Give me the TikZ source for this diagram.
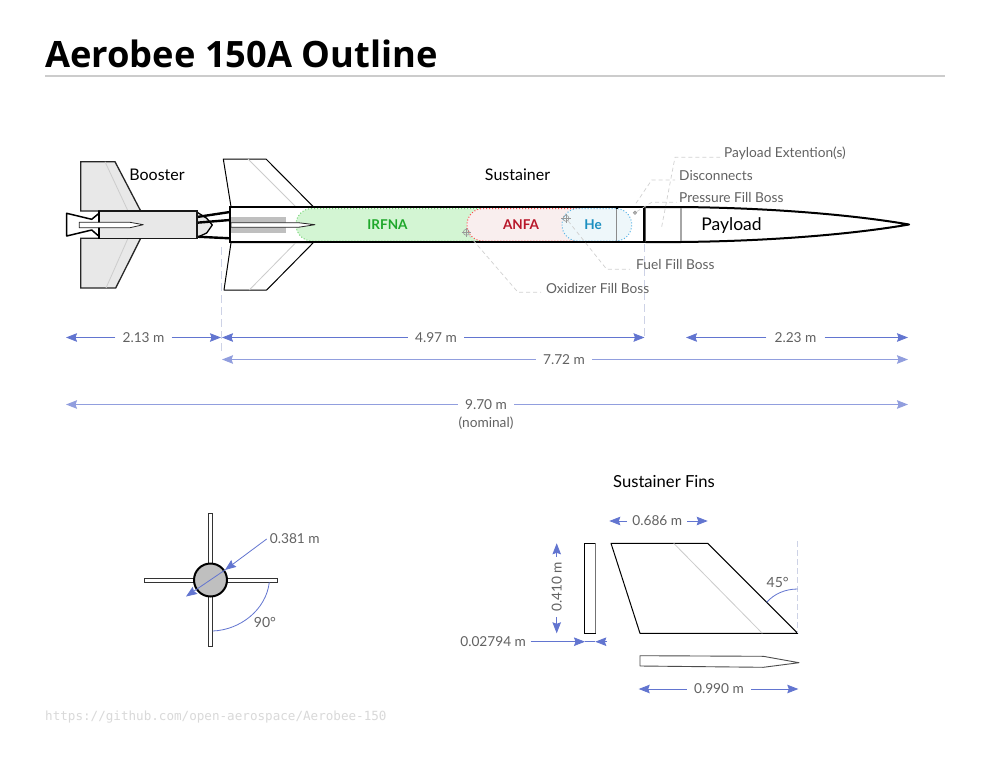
\documentclass[tikz,border=0pt]{standalone}
\usepackage{fontspec}
\setmainfont{Lato}
\newfontfamily\titlefont{Open Sans}
\newfontfamily\urlfont{DejaVu Sans Mono}
\usetikzlibrary{arrows.meta}
\definecolor{dimblue}{HTML}{6275D0}
\definecolor{lab}{HTML}{626262}
\definecolor{finfill}{HTML}{E8E8E8}
\definecolor{irfnafill}{HTML}{D3F5D3}
\definecolor{anfafill}{HTML}{F9EEEE}
\definecolor{hefill}{HTML}{EEF7FA}
\definecolor{guidecol}{HTML}{CDD2E6}
\definecolor{irfnatxt}{HTML}{1FA82B}
\definecolor{anfatxt}{HTML}{B8172A}
\definecolor{hetxt}{HTML}{1B8FC0}
\definecolor{hedot}{HTML}{5AB4E6}
\tikzset{
  px/.style={x=1pt,y=-1pt},
  dimline/.style={draw=dimblue,line width=0.8pt,-{Stealth[length=11pt,width=8.5pt,inset=1.5pt]}},
  dimlight/.style={dimline,line width=1.3pt,draw=dimblue!70},
  dimtxt/.style={text=lab,font=\fontsize{13.7}{15}\selectfont,inner xsep=7pt,inner ysep=1pt},
  maintxt/.style={text=black,font=\fontsize{16}{18}\selectfont,inner sep=0pt},
  leadtxt/.style={text=lab,font=\fontsize{13.7}{15}\selectfont,inner xsep=3pt,inner ysep=1pt},
  leader/.style={draw=black!18,dashed,line width=0.7pt,dash pattern=on 4pt off 3pt},
  guide/.style={draw=guidecol,line width=0.9pt,dash pattern=on 8pt off 4pt},
  hull/.style={draw=black,line width=2pt,line join=round},
  finline/.style={draw=black,line width=1pt,fill=white,line join=round},
  boosterfin/.style={draw=black!85,line width=1.3pt,fill=finfill},
  grain/.style={draw=black!20,line width=0.8pt},
  tank/.style={line width=1pt,dotted},
  boss/.style={circle,draw=black!40,line width=0.6pt,minimum size=6pt,inner sep=0pt},
}
\begin{document}
\begin{tikzpicture}[px]
\useasboundingbox (0,0) rectangle (990,765);
\fill[white] (0,0) rectangle (990,765);

% title
\node[anchor=base west,inner sep=0pt,font=\titlefont\bfseries\fontsize{36.3}{40}\selectfont] (title) at (45,67.5) {Aerobee 150A Outline};
\coordinate (ruleL) at (45,76);
\coordinate (ruleR) at (945,76);
\draw[black!20,line width=1.5pt] (ruleL) -- (ruleR);

% guides
\coordinate (g1a) at (221.5,247); \coordinate (g1b) at (221.5,354);
\coordinate (g2a) at (644.5,244); \coordinate (g2b) at (644.5,336);
\draw[guide] (g1a) -- (g1b);
\draw[guide] (g2a) -- (g2b);

% booster fins
\draw[boosterfin] (80.7,161.7) -- (115,161.7) -- (140.7,211) -- (80.7,211) -- cycle;
\draw[boosterfin] (80.7,238.3) -- (140.7,238.3) -- (115.7,288) -- (80.7,288) -- cycle;
\draw[grain] (105,161.7) -- (128,211);
\draw[grain] (128,238.3) -- (106,288);
% booster front
\draw[draw=black,line width=1.3pt,fill=finfill,line join=round] (197.3,212.3) -- (206.7,218.3) -- (212.3,225) -- (206.7,233) -- (197.3,237.3) -- cycle;
% struts
\draw[black,line width=2.4pt] (197,217) -- (230,212);
\draw[black,line width=2.4pt] (197,222.7) -- (230,220);
\draw[black,line width=2.4pt] (197,236.7) -- (230,238.3);
% nozzle
\draw[draw=black,line width=1.5pt,fill=white,line join=round] (99,213.3) -- (91.7,219.3) -- (66.7,213.3) -- (66.7,236) -- (91.7,230) -- (99,236.3);
% booster body
\draw[draw=black!90,line width=1.7pt,fill=finfill] (99,211) rectangle (197.3,238.5);
\draw[black,line width=2.4pt] (99,210.5) -- (99,239);
\draw[draw=black!85,line width=0.8pt,fill=white,line join=round] (79.3,222.3) -- (130,222.3) -- (143.3,224.7) -- (130,227.7) -- (79.3,227.7) -- cycle;

% sustainer fins
\draw[finline] (223.3,159) -- (266,159) -- (313.3,206.7) -- (231,206.7) -- cycle;
\draw[finline] (231,242.7) -- (313.3,242.7) -- (266.7,290) -- (224,290) -- cycle;
\draw[grain] (248,159) -- (295.7,206.7);
\draw[grain] (295.7,242.7) -- (249.3,290);

% sustainer body
\fill[white] (230,207) rectangle (644,242);
\fill[black!25] (231,216.7) rectangle (286,233);

% tanks
\path[fill=irfnafill,rounded corners=16pt] (480,208.5) -- (296,208.5) -- (296,241) [sharp corners] -- (480,241);
\draw[tank,draw=green!70!black!55!white,rounded corners=16pt] (480,208.5) -- (296,208.5) -- (296,241) [sharp corners] -- (480,241);
\path[fill=anfafill,rounded corners=16pt] (580,208.5) -- (467,208.5) -- (467,241) [sharp corners] -- (580,241);
\draw[tank,draw=red!70!white,rounded corners=16pt] (580,208.5) -- (467,208.5) -- (467,241) [sharp corners] -- (580,241);
\draw[tank,draw=hedot,fill=hefill,rounded corners=16pt] (562,208.5) rectangle (631.7,241);

% needle in sustainer
\draw[draw=black!85,line width=0.8pt,fill=white,line join=round] (231,222.7) -- (298.3,222.7) -- (315,224.7) -- (298.3,227.3) -- (231,227.3) -- cycle;

% hull lines
\draw[hull] (230,207) -- (644.3,207);
\draw[hull] (230,242) -- (644.3,242);
\draw[hull] (230,206) -- (230,243);
\draw[black!45,line width=1.2pt] (616.7,207) -- (616.7,242);
\draw[black,line width=1.8pt] (616.7,206) -- (616.7,208.5);
\draw[black,line width=1.8pt] (616.7,240.5) -- (616.7,243);
\draw[hull,line width=2.4pt] (644.3,206) -- (644.3,243);

% payload
\draw[hull,fill=white] (645.5,207) -- (681,207) .. controls (780,208) and (860,216) .. (909,224.5) .. controls (860,233) and (780,241) .. (681,242) -- (645.5,242);
\draw[black!35,line width=1.2pt] (681,208) -- (681,241);

% bosses
\node[boss] (ox) at (466.3,232.3) {};
\node[boss] (fu) at (566,218.3) {};
\node[boss,minimum size=3.5pt,fill=black!30] (pr) at (635,212.7) {};
\foreach \b in {ox,fu}{
  \draw[black!40,line width=0.5pt] ([yshift=1.5pt]\b.north) -- ([yshift=-1.5pt]\b.south);
  \draw[black!40,line width=0.5pt] ([xshift=-1.5pt]\b.west) -- ([xshift=1.5pt]\b.east);
}

% main labels
\node[maintxt] (booster) at (157,174.7) {Booster};
\node[maintxt] (sustainer) at (517.5,174.7) {Sustainer};
\node[maintxt,font=\fontsize{17.5}{19}\selectfont] (payload) at (731.5,225.7) {Payload};
\node[inner sep=0pt,font=\bfseries\fontsize{13.5}{15}\selectfont,text=irfnatxt] (irfna) at (387.5,225) {IRFNA};
\node[inner sep=0pt,font=\bfseries\fontsize{13.5}{15}\selectfont,text=anfatxt] (anfa) at (521,225) {ANFA};
\node[inner sep=0pt,font=\bfseries\fontsize{13.5}{15}\selectfont,text=hetxt] (he) at (593,225) {He};

% leader labels
\node[leadtxt,anchor=west] (loxi) at (543,288.5) {Oxidizer Fill Boss};
\node[leadtxt,anchor=west] (lfuel) at (633,264.5) {Fuel Fill Boss};
\node[leadtxt,anchor=west] (lpres) at (676,198) {Pressure Fill Boss};
\node[leadtxt,anchor=west] (ldisc) at (676,175.5) {Disconnects};
\node[leadtxt,anchor=west] (lext) at (721,153) {Payload Extention(s)};
\coordinate (k1) at (518,292.3); \coordinate (k1e) at (541,292.3);
\coordinate (k2) at (606.7,269.3); \coordinate (k2e) at (630,269.3);
\coordinate (k3) at (651.7,202.3); \coordinate (k3e) at (676.7,202.3);
\coordinate (k4s) at (636,203.3); \coordinate (k4) at (651.7,180); \coordinate (k4e) at (675,180);
\coordinate (k5s) at (661.7,226.7); \coordinate (k5) at (675,157.3); \coordinate (k5e) at (720,157.3);
\draw[leader] (ox) -- (k1) -- (k1e);
\draw[leader] (fu) -- (k2) -- (k2e);
\draw[leader] (pr) -- (k3) -- (k3e);
\draw[leader] (k4s) -- (k4) -- (k4e);
\draw[leader] (k5s) -- (k5) -- (k5e);

% dimensions row 1
\node[dimtxt] (d213) at (143.5,337.5) {2.13 m};
\coordinate (a1) at (66,337.5); \coordinate (a2) at (221,337.5);
\draw[dimline] (d213) -- (a1);
\draw[dimline] (d213) -- (a2);
\node[dimtxt] (d497) at (436,337.5) {4.97 m};
\coordinate (a3) at (222,337.5); \coordinate (a4) at (644.5,337.5);
\draw[dimline] (d497) -- (a3);
\draw[dimline] (d497) -- (a4);
\node[dimtxt,inner xsep=8pt] (d223) at (795.5,337.5) {2.23 m};
\coordinate (a5) at (686,337.5); \coordinate (a6) at (908,337.5);
\draw[dimline] (d223) -- (a5);
\draw[dimline] (d223) -- (a6);
% row 2
\node[dimtxt] (d772) at (564,359.5) {7.72 m};
\coordinate (a7) at (222,359.5); \coordinate (a8) at (908,359.5);
\draw[dimlight] (d772) -- (a7);
\draw[dimlight] (d772) -- (a8);
% row 3
\node[dimtxt] (d970) at (486,404.5) {9.70 m};
\node[text=lab,font=\fontsize{13.7}{15}\selectfont,inner sep=0pt] (nom) at (486,423) {(nominal)};
\coordinate (a9) at (66,404.5); \coordinate (a10) at (908,404.5);
\draw[dimlight] (d970) -- (a9);
\draw[dimlight] (d970) -- (a10);

% end view
\draw[draw=black!80,line width=0.9pt,fill=white] (208.7,513.3) rectangle (212.7,646.7);
\draw[draw=black!80,line width=0.9pt,fill=white] (144.3,578.3) rectangle (277,582.3);
\node[circle,draw=black,line width=2pt,fill=black!25,minimum size=33pt,inner sep=0pt] (core) at (210.5,580) {};
\node[dimtxt,anchor=west,inner xsep=3pt] (d381) at (266.7,539) {0.381 m};
\coordinate (c1) at (225,570); \coordinate (c2) at (186,596.5);
\draw[dimline] (d381.west) -- (c1);
\draw[dimline] (c1) -- (c2);
\coordinate (r1) at (269.3,582.3); \coordinate (r2) at (212.7,631);
\draw[dimblue,line width=0.8pt] (r1) .. controls (266,610) and (240,630) .. (r2);
\node[text=lab,font=\fontsize{14}{15}\selectfont,inner sep=0pt] (d90) at (265,622) {90°};

% sustainer fin detail
\node[maintxt,font=\fontsize{16.6}{18}\selectfont] (sfins) at (664,481.7) {Sustainer Fins};
\draw[draw=black,line width=0.9pt,fill=white] (584.3,543.3) rectangle (595.3,633.3);
\draw[black!55,line width=1pt] (595.3,543.3) -- (595.3,633.3);
\draw[finline] (611,543.3) -- (707.7,543.3) -- (797.7,633.3) -- (640,633.3) -- cycle;
\draw[grain] (673.7,543.3) -- (762.3,633.3);
\draw[draw=black!70,line width=0.9pt,fill=white,line join=round] (640,655.7) -- (763.3,656.3) -- (799,662.7) -- (763.3,667.3) -- (640,666) -- cycle;
\coordinate (f1) at (797.7,541); \coordinate (f2) at (797.7,633);
\draw[guide,dash pattern=on 6pt off 3pt] (f1) -- (f2);
\coordinate (f3) at (766.7,602.3); \coordinate (f4) at (797.7,589);
\draw[dimblue,line width=0.8pt] (f3) .. controls (774,594) and (785,589) .. (f4);
\node[text=lab,font=\fontsize{14}{15}\selectfont,inner sep=0pt] (d45) at (777.7,582.3) {45°};

\node[dimtxt,inner xsep=5pt] (d686) at (657.3,521) {0.686 m};
\coordinate (e1) at (609.3,521); \coordinate (e2) at (707.7,521);
\draw[dimline] (d686) -- (e1);
\draw[dimline] (d686) -- (e2);
\node[dimtxt,rotate=90,inner xsep=5pt] (d410) at (556.7,587) {0.410 m};
\coordinate (e3) at (556.7,543.3); \coordinate (e4) at (556.7,633.3);
\draw[dimline] (d410) -- (e3);
\draw[dimline] (d410) -- (e4);
\node[dimtxt,anchor=east,inner xsep=4.5pt] (d279) at (530.7,641.7) {0.02794 m};
\coordinate (e5) at (585,641.7); \coordinate (e6) at (595.3,641.7); \coordinate (e7) at (607,641.7);
\draw[dimline] (d279.east) -- (e5);
\draw[dimblue,line width=0.8pt] (e5) -- (e6);
\draw[dimline] (e7) -- (e6);
\node[dimtxt] (d990) at (719,689) {0.990 m};
\coordinate (e8) at (638.7,689); \coordinate (e9) at (798.3,689);
\draw[dimline] (d990) -- (e8);
\draw[dimline] (d990) -- (e9);

% url
\node[anchor=base west,inner sep=0pt,text=black!15,font=\urlfont\fontsize{12.6}{14}\selectfont] (url) at (45,720) {https://github.com/open-aerospace/Aerobee-150};
\end{tikzpicture}
\end{document}
